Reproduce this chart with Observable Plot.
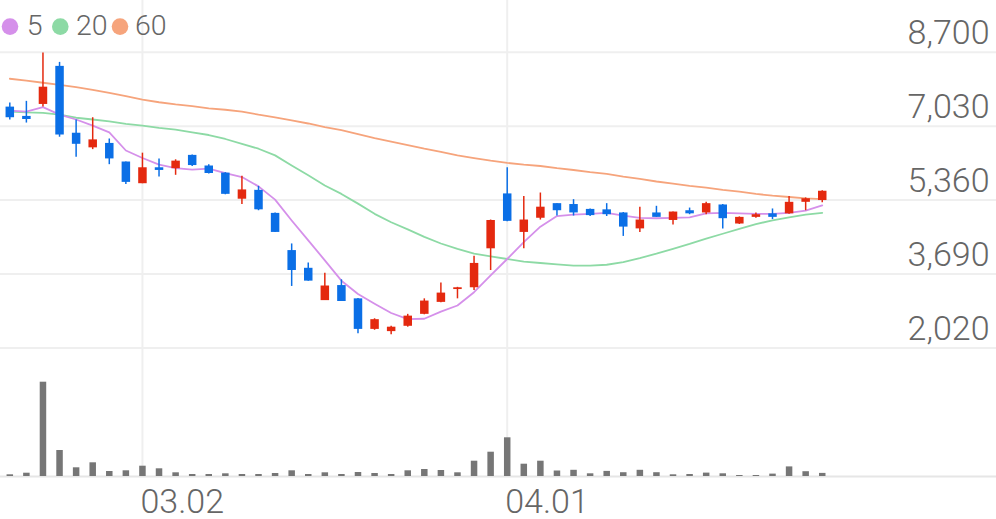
<!DOCTYPE html>
<html>
<head>
<meta charset="utf-8">
<script src="https://cdn.jsdelivr.net/npm/d3@7"></script>
<script src="https://cdn.jsdelivr.net/npm/@observablehq/plot@0.6"></script>
<style>
html,body{margin:0;padding:0;background:#fff;}
#wrap{position:relative;width:996px;height:519px;overflow:hidden;font-family:Roboto,sans-serif;}
#wrap svg{position:absolute;left:0;top:0;}
</style>
</head>
<body>
<div id="wrap"></div>
<script>
// ---- data ----
const open  = [7460,7250,7520,8380,6870,6540,6640,6220,5730,6090,6070,6370,6130,5970,5380,5580,5060,4220,3820,3090,3430,3130,2440,2390,2510,2780,3050,3340,3380,4260,5500,4630,4950,5280,5260,5150,5140,5070,4710,5070,4900,5120,5070,5250,4820,4970,5050,5050,5310,5350];
const high  = [7550,7590,8680,8470,7170,7220,6740,6220,6420,6290,6270,6380,6160,5980,5900,5670,5070,4370,3940,3710,3560,3140,2680,2510,2780,3130,3490,3390,4090,4910,6090,5440,5520,5280,5370,5160,5280,5080,5200,5220,5090,5180,5310,5260,4980,5070,5160,5440,5410,5570];
const low   = [7170,7100,7460,6780,6330,6500,6160,5710,5730,5880,5920,6120,5950,5480,5260,5120,4630,3410,3530,3090,3070,2340,2420,2320,2490,2770,3040,3130,3320,3770,4870,4260,4910,5000,5000,4990,4990,4540,4630,4970,4800,5030,5030,4710,4810,4950,4920,5040,5120,5300];
const close = [7220,7180,7910,6830,6620,6720,6290,5760,6090,6030,6240,6140,5960,5490,5590,5140,4630,3770,3530,3420,3070,2440,2660,2490,2740,3080,3260,3380,3930,4900,4880,4910,5200,5120,5070,5010,5030,4750,4910,4970,5090,5050,5280,4940,4970,5030,4970,5310,5390,5560];
const ma5   = [7380,7360,7460,7290,7180,7040,6890,6480,6310,6160,6080,6050,6070,5970,5880,5670,5370,4900,4450,4000,3540,3240,3020,2810,2670,2680,2840,2980,3280,3660,4030,4410,4760,5000,5030,5050,5070,5010,4960,4950,4960,4970,5060,5070,5060,5050,5050,5070,5120,5240];
const ma20  = [7360,7340,7330,7290,7220,7180,7140,7080,7040,6990,6950,6890,6830,6740,6630,6520,6370,6140,5920,5690,5500,5280,5050,4860,4700,4530,4380,4260,4150,4090,4030,3970,3940,3910,3880,3880,3900,3960,4050,4150,4260,4370,4490,4600,4710,4820,4900,4970,5030,5070];
const ma60  = [8100,8060,8010,7960,7910,7850,7780,7710,7630,7570,7520,7480,7430,7400,7360,7290,7230,7160,7090,7010,6940,6850,6760,6680,6600,6520,6450,6370,6310,6250,6200,6160,6130,6080,6040,5990,5950,5890,5840,5780,5730,5680,5640,5590,5550,5500,5460,5430,5400,5380];
const volume = [17000,33000,943000,260000,87000,137000,50000,57000,103000,77000,37000,20000,20000,27000,20000,20000,30000,57000,20000,37000,20000,40000,30000,20000,57000,70000,60000,37000,153000,243000,387000,123000,153000,55000,62000,27000,51000,38000,62000,38000,17000,20000,34000,27000,10000,10000,24000,96000,48000,31000];
const yTicks = [2020, 3690, 5360, 7030, 8700];
const xTickIdx = [8, 30];
const xTickLabels = ["03.02", "04.01"];
const legendNames = ["5", "20", "60"];

// ---- styles ----
const RED = "#e4290f", BLUE = "#0b6fe6";
const MA_COLORS = ["#d590ea", "#8ddaa5", "#f6a47c"];
const GRID = "#efefef", TEXT = "#666";
const FONT = "Roboto, sans-serif";

const idx = d3.range(open.length);
const candles = idx.map(i => ({i, o: open[i], h: high[i], l: low[i], c: close[i]}));
const col = d => d.c >= d.o ? RED : BLUE;
const X = {domain: [-0.561, 59.51], range: [0, 996], axis: null};
const fmt = d3.format(",");

const wrap = document.getElementById("wrap");

// volume panel (bottom layer)
const volPlot = Plot.plot({
  width: 996, height: 519,
  marginTop: 0, marginBottom: 43, marginLeft: 0, marginRight: 0,
  style: {background: "transparent", fontFamily: FONT},
  x: X,
  y: {domain: [0, d3.max(volume)], range: [476, 381.7], axis: null},
  marks: [
    Plot.ruleX(xTickIdx, {stroke: GRID, strokeWidth: 2}),
    Plot.ruleY([0], {stroke: "#e6e6e6", strokeWidth: 2}),
    Plot.ruleX(idx, {x: i => i, y1: 0, y2: i => volume[i], stroke: "#767676", strokeWidth: 6.5}),
    Plot.text(xTickLabels, {x: (d, k) => xTickIdx[k], text: d => d, frameAnchor: "bottom",
      textAnchor: "start", lineAnchor: "bottom", dx: -2, dy: 36,
      fontSize: 34, fontWeight: 300, fill: TEXT})
  ]
});
wrap.appendChild(volPlot);

// price panel
const pricePlot = Plot.plot({
  width: 996, height: 519, margin: 0,
  style: {background: "transparent", fontFamily: FONT},
  x: X,
  y: {domain: [2020, 8700], range: [347.5, 51.7], axis: null},
  marks: [
    Plot.ruleY(yTicks, {stroke: GRID, strokeWidth: 2}),
    Plot.text(yTicks, {y: d => d, text: d => fmt(d), frameAnchor: "right", textAnchor: "end",
      lineAnchor: "bottom", dx: -7, dy: -8.5, fontSize: 34, fontWeight: 300, fill: TEXT}),
    Plot.line(idx, {x: i => i, y: i => ma60[i], stroke: MA_COLORS[2], strokeWidth: 1.8}),
    Plot.line(idx, {x: i => i, y: i => ma20[i], stroke: MA_COLORS[1], strokeWidth: 1.8}),
    Plot.line(idx, {x: i => i, y: i => ma5[i], stroke: MA_COLORS[0], strokeWidth: 1.8}),
    Plot.ruleX(candles, {x: "i", y1: "l", y2: "h", stroke: col, strokeWidth: 1.5}),
    Plot.ruleX(candles, {x: "i", y1: "o", y2: "c", stroke: col, strokeWidth: 8.5})
  ]
});
wrap.appendChild(pricePlot);

// legend
const leg = d3.select(wrap).append("svg").attr("width", 200).attr("height", 44)
  .style("font-family", FONT);
const dotX = [10, 60.3, 120], textX = [26.7, 76, 135];
legendNames.forEach((name, k) => {
  leg.append("circle").attr("cx", dotX[k]).attr("cy", 26.6).attr("r", 8.3).attr("fill", MA_COLORS[k]);
  leg.append("text").attr("x", textX[k]).attr("y", 35).attr("font-size", 28.5).attr("font-weight", 300)
    .attr("fill", TEXT).text(name);
});
</script>
</body>
</html>
